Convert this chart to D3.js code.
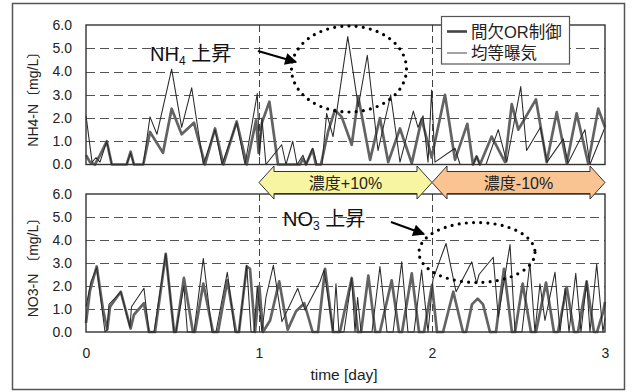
<!DOCTYPE html>
<html>
<head>
<meta charset="utf-8">
<script src="https://cdn.jsdelivr.net/npm/d3@7"></script>
<style>
  body { margin: 0; background: #fff; }
  svg { display: block; font-family: "Liberation Sans", "Noto Sans CJK JP", sans-serif; }
</style>
</head>
<body>
<svg id="chart" width="634" height="392"></svg>
<script>
// [day, mg/L]
const nh4Intermittent = [
  [0.000,0.4],[0.023,0.1],[0.052,0.0],[0.081,0.4],[0.120,1.0],[0.149,0.0],[0.235,0.0],[0.258,0.55],
  [0.277,0.0],[0.331,0.0],[0.370,1.4],[0.445,0.5],[0.495,2.4],[0.553,1.3],[0.624,1.8],[0.688,0.0],
  [0.746,1.55],[0.794,0.0],[0.871,1.85],[0.929,0.0],[0.983,1.9],[0.998,0.5],[1.017,1.8],[1.060,2.7],
  [1.110,0.0],[1.237,0.0],[1.254,0.25],[1.272,0.0],[1.310,0.65],[1.329,0.0],[1.358,0.0],[1.399,1.4],
  [1.439,2.35],[1.478,2.05],[1.536,0.85],[1.574,2.9],[1.642,0.2],[1.699,2.0],[1.747,0.1],[1.815,1.55],
  [1.883,0.05],[1.940,1.95],[1.998,0.3],[2.075,3.0],[2.133,0.2],[2.204,1.75],[2.237,0.0],[2.258,0.35],
  [2.277,0.0],[2.345,1.2],[2.422,0.1],[2.461,2.6],[2.499,1.5],[2.601,2.8],[2.663,0.1],[2.721,2.25],
  [2.779,0.05],[2.836,2.2],[2.903,0.05],[2.961,2.4],[3.000,1.6]
];
const nh4Uniform = [
  [0.000,2.1],[0.035,0.1],[0.058,0.3],[0.081,0.1],[0.120,1.0],[0.149,0.0],[0.235,0.0],[0.258,0.5],
  [0.277,0.0],[0.331,0.0],[0.370,2.05],[0.410,1.3],[0.495,4.1],[0.553,1.6],[0.611,3.3],[0.678,0.0],
  [0.746,1.5],[0.786,0.0],[0.871,1.8],[0.919,0.0],[0.990,3.05],[1.003,0.4],[1.017,2.0],[1.040,0.0],
  [1.131,0.85],[1.156,0.0],[1.195,1.0],[1.220,0.0],[1.254,0.4],[1.272,0.0],[1.310,0.7],[1.335,0.0],
  [1.364,0.0],[1.391,2.2],[1.428,1.2],[1.513,5.5],[1.574,2.5],[1.626,4.7],[1.688,0.6],[1.761,3.0],
  [1.815,0.1],[1.892,2.3],[1.919,1.6],[1.948,2.1],[1.977,0.1],[1.998,3.2],[2.017,0.1],[2.133,0.7],
  [2.162,0.0],[2.237,0.0],[2.258,0.35],[2.277,0.0],[2.312,0.0],[2.383,1.5],[2.432,0.1],[2.513,3.35],
  [2.547,0.6],[2.627,1.6],[2.665,0.1],[2.759,1.1],[2.786,0.05],[2.884,1.5],[2.913,0.0],[3.000,1.6]
];
const no3Intermittent = [
  [0.000,0.4],[0.023,1.8],[0.062,2.85],[0.098,1.0],[0.123,0.1],[0.139,1.1],[0.201,1.75],[0.258,0.15],
  [0.277,0.75],[0.335,1.25],[0.364,0.0],[0.399,0.0],[0.461,3.4],[0.509,0.0],[0.520,0.0],[0.566,2.35],
  [0.618,0.0],[0.630,0.0],[0.678,2.1],[0.734,0.0],[0.763,0.0],[0.817,2.25],[0.867,0.0],[0.884,0.0],
  [0.929,2.85],[0.948,2.75],[0.977,0.0],[1.002,2.0],[1.023,0.0],[1.064,0.5],[1.117,2.2],[1.166,0.1],
  [1.214,0.9],[1.262,1.25],[1.310,0.0],[1.341,0.0],[1.382,2.75],[1.428,0.0],[1.468,0.0],[1.536,2.35],
  [1.572,0.0],[1.590,0.0],[1.632,2.45],[1.672,0.0],[1.699,0.0],[1.767,2.25],[1.809,0.0],[1.827,0.0],
  [1.883,2.55],[1.925,0.0],[1.954,0.0],[2.000,2.05],[2.029,0.0],[2.064,0.0],[2.123,1.75],[2.179,0.0],
  [2.197,0.0],[2.231,1.2],[2.264,1.45],[2.295,1.2],[2.335,0.0],[2.370,0.0],[2.416,2.75],[2.462,0.0],
  [2.480,0.0],[2.524,2.1],[2.572,0.0],[2.601,0.0],[2.659,2.15],[2.705,0.0],[2.728,0.0],[2.779,1.95],
  [2.821,0.0],[2.844,0.0],[2.894,2.2],[2.936,0.0],[2.954,0.0],[2.990,0.9],[3.000,1.3]
];
const no3Uniform = [
  [0.000,1.1],[0.029,2.2],[0.062,2.8],[0.110,0.0],[0.121,0.1],[0.133,1.2],[0.201,1.75],[0.254,0.2],
  [0.263,1.1],[0.335,1.9],[0.364,0.0],[0.393,0.0],[0.461,3.4],[0.509,0.0],[0.520,0.0],[0.566,2.0],
  [0.586,0.0],[0.624,0.0],[0.678,3.2],[0.728,0.0],[0.751,0.0],[0.817,2.6],[0.861,0.0],[0.884,0.0],
  [0.929,2.9],[0.954,0.0],[0.971,0.0],[0.990,2.0],[1.017,0.0],[1.040,1.5],[1.083,2.9],[1.133,0.45],
  [1.224,1.9],[1.266,0.95],[1.353,2.2],[1.376,2.7],[1.428,0.0],[1.445,2.1],[1.462,0.0],[1.491,0.0],
  [1.536,2.35],[1.555,0.0],[1.570,1.5],[1.590,0.0],[1.653,0.0],[1.699,2.85],[1.740,0.0],[1.775,0.0],
  [1.825,3.05],[1.861,0.0],[1.896,0.0],[1.940,2.7],[1.977,0.0],[2.006,2.3],[2.081,3.85],[2.139,1.75],
  [2.230,3.05],[2.258,2.1],[2.272,2.5],[2.354,3.25],[2.383,0.65],[2.451,3.8],[2.480,0.0],[2.520,0.0],
  [2.566,3.0],[2.595,0.0],[2.624,2.1],[2.653,0.5],[2.711,2.6],[2.740,0.0],[2.769,1.9],[2.792,0.0],
  [2.831,2.55],[2.861,0.0],[2.894,2.2],[2.913,0.0],[2.952,2.95],[2.988,0.0],[3.000,0.6]
];

const seriesNames = ['間欠OR制御', '均等曝気'];
const yTicks = [0, 1, 2, 3, 4, 5, 6];
const xTicks = [0, 1, 2, 3];
const dayLines = [1, 2];
const phases = [
  { from: 1, to: 2, label: '濃度+10%', fill: '#f8f5a2' },
  { from: 2, to: 3, label: '濃度-10%', fill: '#f9c492' }
];

const svg = d3.select('#chart');

// outer frame
svg.append('rect')
  .attr('x', 12.5).attr('y', 3.5).attr('width', 612).attr('height', 386)
  .attr('fill', '#fff').attr('stroke', '#555').attr('stroke-width', 1.5);

const x = d3.scaleLinear().domain([0, 3]).range([86, 605]);

const panels = [
  { top: 25, bottom: 164.5, title: 'NH4-N〔mg/L〕', thick: nh4Intermittent, thin: nh4Uniform },
  { top: 194, bottom: 332, title: 'NO3-N 〔mg/L〕', thick: no3Intermittent, thin: no3Uniform }
];

panels.forEach(p => {
  const y = d3.scaleLinear().domain([0, 6]).range([p.bottom, p.top]);
  const g = svg.append('g');

  // horizontal dashed grid
  g.selectAll('.hgrid')
    .data(yTicks.filter(d => d > 0 && d < 6))
    .enter().append('line')
    .attr('x1', x(0)).attr('x2', x(3))
    .attr('y1', d => Math.round(y(d)) + 0.5).attr('y2', d => Math.round(y(d)) + 0.5)
    .attr('stroke', '#555').attr('stroke-width', 1)
    .attr('stroke-dasharray', '9,5');

  // vertical day lines
  g.selectAll('.vgrid')
    .data(dayLines)
    .enter().append('line')
    .attr('x1', d => Math.round(x(d)) + 0.5).attr('x2', d => Math.round(x(d)) + 0.5)
    .attr('y1', p.top).attr('y2', p.bottom)
    .attr('stroke', '#444').attr('stroke-width', 1)
    .attr('stroke-dasharray', '7,4');

  const line = d3.line().x(d => x(d[0])).y(d => y(d[1]));

  g.append('path').datum(p.thick)
    .attr('d', line).attr('fill', 'none')
    .attr('stroke', '#636363').attr('stroke-width', 2.7).attr('stroke-linejoin', 'round');

  g.append('path').datum(p.thin)
    .attr('d', line).attr('fill', 'none')
    .attr('stroke', '#2a2a2a').attr('stroke-width', 1.05).attr('stroke-linejoin', 'round');

  // frame
  g.append('rect')
    .attr('x', x(0)).attr('y', p.top)
    .attr('width', x(3) - x(0)).attr('height', p.bottom - p.top)
    .attr('fill', 'none').attr('stroke', '#333').attr('stroke-width', 1.4);

  // y axis labels
  const yAxis = d3.axisLeft(y).tickValues(yTicks).tickSize(0).tickPadding(0)
    .tickFormat(d3.format('.1f'));
  const ag = svg.append('g')
    .attr('transform', `translate(${x(0) - 14},0)`)
    .call(yAxis);
  ag.select('.domain').remove();
  ag.selectAll('text')
    .attr('font-size', 14).attr('fill', '#222')
    .attr('font-family', '"Liberation Sans", sans-serif');

  svg.append('text')
    .attr('transform', `translate(38,${(p.top + p.bottom) / 2 + 1}) rotate(-90)`)
    .attr('text-anchor', 'middle')
    .attr('font-size', 14).attr('fill', '#222')
    .text(p.title);
});

// x axis labels under lower panel
const xAxis = d3.axisBottom(x).tickValues(xTicks).tickSize(0).tickPadding(0)
  .tickFormat(d3.format('d'));
const xg = svg.append('g').attr('transform', 'translate(0,348)').call(xAxis);
xg.select('.domain').remove();
xg.selectAll('text').attr('font-size', 14).attr('fill', '#222')
  .attr('font-family', '"Liberation Sans", sans-serif');

svg.append('text')
  .attr('x', 344).attr('y', 380).attr('text-anchor', 'middle')
  .attr('font-size', 15.5).attr('fill', '#222')
  .text('time [day]');

// legend
const lg = svg.append('g');
lg.append('rect')
  .attr('x', 441.5).attr('y', 16.5).attr('width', 128).attr('height', 47.5)
  .attr('fill', '#fff').attr('stroke', '#555').attr('stroke-width', 1.2);
seriesNames.forEach((name, i) => {
  const yy = 31.5 + i * 21.5;
  lg.append('line')
    .attr('x1', 447).attr('x2', 467).attr('y1', yy).attr('y2', yy)
    .attr('stroke', i === 0 ? '#444' : '#666')
    .attr('stroke-width', i === 0 ? 2.6 : 1.2);
  lg.append('text')
    .attr('x', 471).attr('y', yy + 6)
    .attr('font-size', 16.5).attr('fill', '#222')
    .text(name);
});

// arrowhead marker
svg.append('defs').append('marker')
  .attr('id', 'ah').attr('viewBox', '0 0 10 10')
  .attr('refX', 9).attr('refY', 5)
  .attr('markerWidth', 16).attr('markerHeight', 12)
  .attr('markerUnits', 'userSpaceOnUse')
  .attr('orient', 'auto')
  .append('path').attr('d', 'M0,0 L10,5 L0,10 Z').attr('fill', '#000');

// annotations
function label(xp, yp, main, sub) {
  const t = svg.append('text').attr('x', xp).attr('y', yp)
    .attr('font-size', 20).attr('fill', '#111');
  t.append('tspan').text(main);
  t.append('tspan').attr('font-size', 12).attr('dy', 4).text(sub);
  t.append('tspan').attr('dy', -4).text(' 上昇');
}
label(150, 61, 'NH', '4');
label(283, 226, 'NO', '3');

svg.append('line')
  .attr('x1', 258).attr('y1', 51).attr('x2', 296).attr('y2', 62)
  .attr('stroke', '#000').attr('stroke-width', 2).attr('marker-end', 'url(#ah)');
svg.append('line')
  .attr('x1', 391).attr('y1', 222).attr('x2', 424).attr('y2', 234)
  .attr('stroke', '#000').attr('stroke-width', 2).attr('marker-end', 'url(#ah)');

// dotted ellipses
svg.append('ellipse')
  .attr('cx', 349).attr('cy', 69).attr('rx', 57.5).attr('ry', 43)
  .attr('fill', 'none').attr('stroke', '#000').attr('stroke-width', 3.2)
  .attr('stroke-linecap', 'round').attr('stroke-dasharray', '0,7.2');
svg.append('ellipse')
  .attr('cx', 477).attr('cy', 252.5).attr('rx', 58).attr('ry', 30)
  .attr('fill', 'none').attr('stroke', '#000').attr('stroke-width', 3.2)
  .attr('stroke-linecap', 'round').attr('stroke-dasharray', '0,7.2');

// phase arrows between the panels
const yc = 182.5, head = 15, bodyH = 11, headH = 16.5;
phases.forEach(ph => {
  const x0 = x(ph.from), x1 = x(ph.to);
  const pts = [
    [x0, yc], [x0 + head, yc - headH], [x0 + head, yc - bodyH], [x1 - head, yc - bodyH],
    [x1 - head, yc - headH], [x1, yc], [x1 - head, yc + headH], [x1 - head, yc + bodyH],
    [x0 + head, yc + bodyH], [x0 + head, yc + headH]
  ];
  svg.append('polygon')
    .attr('points', pts.map(d => d.join(',')).join(' '))
    .attr('fill', ph.fill).attr('stroke', '#333').attr('stroke-width', 1);
  svg.append('text')
    .attr('x', (x0 + x1) / 2).attr('y', yc + 6)
    .attr('text-anchor', 'middle')
    .attr('font-size', 16).attr('fill', '#222')
    .text(ph.label);
});
</script>
</body>
</html>
